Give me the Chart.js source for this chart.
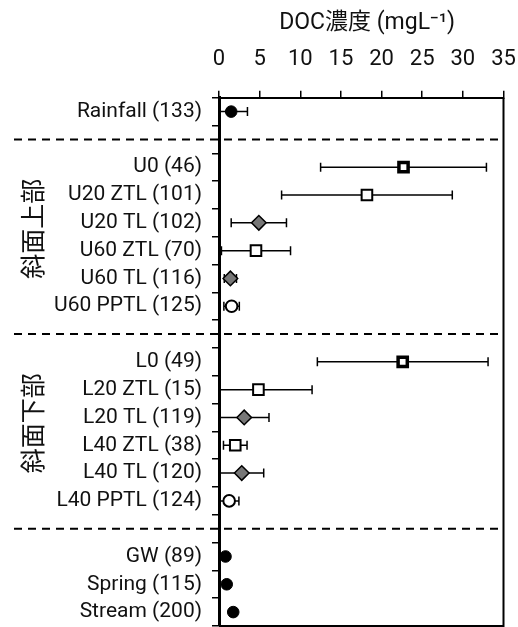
<!DOCTYPE html>
<html>
<head>
<meta charset="utf-8">
<script src="https://cdn.jsdelivr.net/npm/chart.js@4"></script>
<style>
  body { margin: 0; background: #fff; }
  #wrap { width: 518px; height: 627px; }
</style>
</head>
<body>
<div id="wrap"><canvas id="myChart"></canvas></div>
<script>
// rows of the chart, '' = separator row (dashed line)
const categories = ['Rainfall (133)', '', 'U0 (46)', 'U20 ZTL (101)', 'U20 TL (102)', 'U60 ZTL (70)', 'U60 TL (116)', 'U60 PPTL (125)', '',
  'L0 (49)', 'L20 ZTL (15)', 'L20 TL (119)', 'L40 ZTL (38)', 'L40 TL (120)', 'L40 PPTL (124)', '',
  'GW (89)', 'Spring (115)', 'Stream (200)'];
const meanDOC = [1.5, null, 22.7, 18.2, 4.9, 4.55, 1.4, 1.55, null, 22.6, 4.85, 3.1, 2.0, 2.8, 1.25, null, 0.8, 0.95, 1.75];
const sdDOC = [2.0, null, 10.2, 10.5, 3.4, 4.25, 0.75, 0.95, null, 10.5, 6.6, 3.05, 1.45, 2.7, 1.2, null, 0.3, 0.3, 0.4];
const markerKind = ['fill', null, 'boldSq', 'sq', 'dia', 'sq', 'dia', 'open', null, 'boldSq', 'sq', 'dia', 'sq', 'dia', 'open', null, 'fill', 'fill', 'fill'];
const groupNames = ['斜面上部', '斜面下部'];
const groupRows = [[2, 7], [9, 14]];
const xMin = 0, xMax = 35, xStep = 5;

const markerStyle = {
  fill:   { style: 'circle',  r: 5.8, bw: 1,   bg: '#000' },
  open:   { style: 'circle',  r: 5.8, bw: 2,   bg: '#fff' },
  dia:    { style: 'rectRot', r: 7.3, bw: 1.5, bg: '#777' },
  sq:     { style: 'rect',    r: 7.5, bw: 2,   bg: '#fff' },
  boldSq: { style: 'rect',    r: 6.5, bw: 3.5, bg: '#fff' }
};
const pick = (key) => markerKind.map(k => k ? markerStyle[k][key] : 0);

const FONT = "Roboto, 'Noto Sans CJK JP', sans-serif";

// error bars under the markers, frame, separators and group names
const errorBars = {
  id: 'errorBars',
  beforeDatasetsDraw(chart) {
    const { ctx, scales: { x, y } } = chart;
    ctx.save();
    ctx.strokeStyle = '#000';
    ctx.lineWidth = 1.5;
    for (let i = 0; i < meanDOC.length; ++i) {
      if (meanDOC[i] == null) continue;
      const lo = meanDOC[i] - sdDOC[i], hi = meanDOC[i] + sdDOC[i];
      const py = y.getPixelForValue(i);
      const x0 = x.getPixelForValue(Math.max(lo, xMin));
      const x1 = x.getPixelForValue(Math.min(hi, xMax));
      ctx.beginPath();
      ctx.moveTo(x0, py); ctx.lineTo(x1, py);
      if (lo >= xMin) { ctx.moveTo(x0, py - 4.5); ctx.lineTo(x0, py + 4.5); }
      if (hi <= xMax) { ctx.moveTo(x1, py - 4.5); ctx.lineTo(x1, py + 4.5); }
      ctx.stroke();
    }
    ctx.restore();
  },
  afterDraw(chart) {
    const { ctx, chartArea, scales: { y } } = chart;
    ctx.save();
    // frame right + bottom
    ctx.strokeStyle = '#000';
    ctx.lineWidth = 2;
    ctx.beginPath();
    ctx.moveTo(chartArea.right, chartArea.top);
    ctx.lineTo(chartArea.right, chartArea.bottom);
    ctx.lineTo(chartArea.left, chartArea.bottom);
    ctx.stroke();
    // dashed separators
    ctx.setLineDash([8, 6]);
    for (let i = 0; i < categories.length; ++i) {
      if (categories[i] !== '') continue;
      const py = y.getPixelForValue(i);
      ctx.beginPath();
      ctx.moveTo(14, py); ctx.lineTo(chartArea.right, py);
      ctx.stroke();
    }
    ctx.setLineDash([]);
    // group names (vertical)
    ctx.fillStyle = '#111';
    ctx.font = "25px 'Noto Sans CJK JP', sans-serif";
    ctx.textAlign = 'center';
    ctx.textBaseline = 'middle';
    for (let g = 0; g < groupNames.length; ++g) {
      const cy = (y.getPixelForValue(groupRows[g][0]) + y.getPixelForValue(groupRows[g][1])) / 2 - 8;
      ctx.save();
      ctx.translate(32, cy);
      ctx.rotate(-Math.PI / 2);
      ctx.fillText(groupNames[g], 0, 0);
      ctx.restore();
    }
    ctx.restore();
  }
};

const noPad = (scale) => {
  scale.paddingLeft = 0; scale.paddingRight = 0;
  scale.paddingTop = 0; scale.paddingBottom = 0;
};

const ctx = document.getElementById('myChart').getContext('2d');
const myChart = new Chart(ctx, {
  type: 'line',
  data: {
    labels: categories,
    datasets: [{
      data: meanDOC,
      showLine: false,
      pointStyle: pick('style'),
      pointRadius: pick('r'),
      pointBorderWidth: pick('bw'),
      pointBackgroundColor: pick('bg'),
      pointBorderColor: '#000'
    }]
  },
  options: {
    indexAxis: 'y',
    responsive: true,
    maintainAspectRatio: false,
    animation: false,
    layout: { autoPadding: false, padding: { left: 0, right: 14.5, top: 0, bottom: 1 } },
    plugins: { legend: { display: false }, tooltip: { enabled: false } },
    scales: {
      x: {
        type: 'linear',
        position: 'top',
        min: xMin,
        max: xMax,
        afterFit(scale) { scale.height = 97.7; noPad(scale); },
        ticks: { stepSize: xStep, color: '#111', padding: 18, font: { family: FONT, size: 22 } },
        grid: { drawOnChartArea: false, tickLength: 7, color: '#000', lineWidth: 1.5 },
        border: { display: true, color: '#000', width: 2 },
        title: {
          display: true,
          text: '\u2002DOC濃度 (mgL⁻¹)',
          color: '#111',
          font: { family: FONT, size: 23 },
          padding: { top: 9, bottom: 0 }
        }
      },
      y: {
        type: 'category',
        offset: true,
        afterFit(scale) { scale.width = 219; noPad(scale); },
        ticks: { color: '#111', padding: 10, autoSkip: false, font: { family: FONT, size: 21 } },
        grid: { drawOnChartArea: false, offset: true, tickLength: 7, color: '#000', lineWidth: 1.5 },
        border: { display: true, color: '#000', width: 3 }
      }
    }
  },
  plugins: [errorBars]
});
</script>
</body>
</html>
